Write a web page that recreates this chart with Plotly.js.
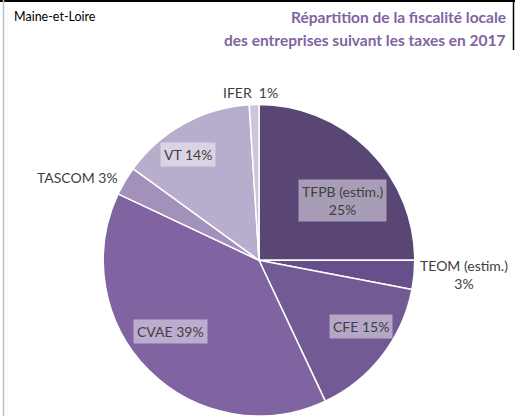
<!DOCTYPE html>
<html>
<head>
<meta charset="utf-8">
<script src="https://cdn.plot.ly/plotly-3.0.1.min.js"></script>
<style>
html,body{margin:0;padding:0;background:#fff;overflow:hidden;}
#chart{width:515px;height:416px;}
</style>
</head>
<body>
<div id="chart"></div>
<script>
// ---- data ----
var labels = ["TFPB (estim.)", "TEOM (estim.)", "CFE", "CVAE", "TASCOM", "VT", "IFER"];
var values = [25, 3, 15, 39, 3, 14, 1];
var pctText = ["25%", "3%", "15%", "39%", "3%", "14%", "1%"];

// ---- styles ----
var colors = ["#5a4675", "#664f8a", "#725a95", "#8064a2", "#a291bb", "#b9adcd", "#cdc5dc"];
var sep = ["<br>", "<br>", " ", " ", " ", " ", "\u00a0 "];
var boxed = [true, false, true, true, false, true, false];
var labelR = [0.66, 1.32, 0.78, 0.73, 1.28, 0.82, 1.08];
var labelDA = [9.5, -1.5, -4.5, 6.4, -6, -5, -1];

var W = 515, H = 416;
var dom = {x: [0.2005, 0.8053], y: [0, 0.7488]};

var cxPx = (dom.x[0] + dom.x[1]) / 2 * W;
var cyPx = H - (dom.y[0] + dom.y[1]) / 2 * H;
var R = Math.min(W * (dom.x[1] - dom.x[0]), H * (dom.y[1] - dom.y[0])) / 2;

var total = values.reduce(function(a, b){return a + b;}, 0);
var cum = 0;
var annotations = [];
for (var i = 0; i < values.length; i++) {
  var mid = 360 * (cum + values[i] / 2) / total + labelDA[i];
  cum += values[i];
  var th = mid * Math.PI / 180;
  var px = cxPx + R * labelR[i] * Math.sin(th);
  var py = cyPx - R * labelR[i] * Math.cos(th);
  var a = {
    xref: "paper", yref: "paper",
    x: px / W, y: (H - py) / H,
    xanchor: "center", yanchor: "middle",
    text: labels[i] + sep[i] + pctText[i],
    showarrow: false,
    align: "center",
    font: {family: "Lato, 'Open Sans', sans-serif", size: 14, color: "#404040"},
    borderpad: 3
  };
  if (boxed[i]) { a.bgcolor = "rgba(255,255,255,0.47)"; }
  annotations.push(a);
}

annotations.push({
  xref: "paper", yref: "paper", x: 12 / W, y: 1 - 17 / H,
  xanchor: "left", yanchor: "middle", showarrow: false,
  text: "Maine-et-Loire",
  font: {family: "Lato, sans-serif", size: 12.5, color: "#000"}
});
annotations.push({
  xref: "paper", yref: "paper", x: 508 / W, y: 1 - 17 / H,
  xanchor: "right", yanchor: "middle", showarrow: false,
  text: "<b>Répartition de la fiscalité locale</b>",
  font: {family: "Lato, sans-serif", size: 15.5, color: "#8064a2"}
});
annotations.push({
  xref: "paper", yref: "paper", x: 508 / W, y: 1 - 40 / H,
  xanchor: "right", yanchor: "middle", showarrow: false,
  text: "<b>des entreprises suivant les taxes en 2017</b>",
  font: {family: "Lato, sans-serif", size: 15.5, color: "#8064a2"}
});

var trace = {
  type: "pie",
  labels: labels,
  values: values,
  sort: false,
  direction: "clockwise",
  rotation: 0,
  marker: {colors: colors, line: {color: "#ffffff", width: 1.5}},
  textinfo: "none",
  hoverinfo: "none",
  showlegend: false,
  domain: dom
};

var layout = {
  width: W, height: H,
  margin: {l: 0, r: 0, t: 0, b: 0},
  paper_bgcolor: "#ffffff",
  showlegend: false,
  annotations: annotations,
  shapes: [
    {type: "line", xref: "paper", yref: "paper", x0: 0, x1: 1, y0: 1 - 1 / H, y1: 1 - 1 / H, line: {color: "#000", width: 2}},
    {type: "line", xref: "paper", yref: "paper", x0: 3.5 / W, x1: 3.5 / W, y0: 0, y1: 1, line: {color: "#bfbfbf", width: 1.5}},
    {type: "line", xref: "paper", yref: "paper", x0: 513.5 / W, x1: 513.5 / W, y0: 1 - 50 / H, y1: 1, line: {color: "#000", width: 1.5}}
  ]
};

Plotly.newPlot("chart", [trace], layout, {displayModeBar: false, staticPlot: true});
</script>
</body>
</html>
